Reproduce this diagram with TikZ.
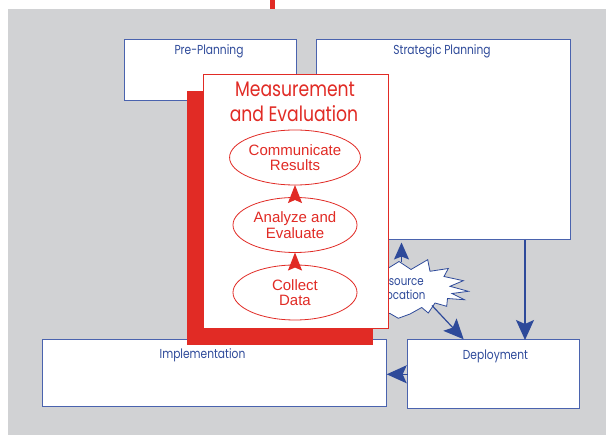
\documentclass[tikz,border=0pt]{standalone}
\usepackage{fontspec}
\setmainfont{Liberation Sans}
\newfontfamily\geo[FakeStretch=0.82]{Poppins}
\usetikzlibrary{arrows.meta,shapes.geometric,calc}
\definecolor{bggray}{HTML}{D1D2D4}
\definecolor{myblue}{HTML}{2E4A9A}
\definecolor{boxblue}{HTML}{4A63AE}
\definecolor{myred}{HTML}{E12B25}
\begin{document}
\begin{tikzpicture}[x=1pt,y=-1pt,
  bluebox/.style={draw=boxblue, line width=1pt, fill=white, inner sep=0pt, outer sep=0pt},
  bluelabel/.style={font=\geo\fontsize{13}{14}\selectfont, text=myblue, anchor=base, inner sep=0pt},
  titlelbl/.style={font=\geo\fontsize{21}{25}\selectfont, text=myred, anchor=base, inner sep=0pt},
  stepell/.style={ellipse, draw=myred, line width=0.8pt, fill=white, minimum width=124pt, minimum height=55pt, inner sep=0pt, outer sep=0pt, align=center, font=\fontsize{15}{15.5}\selectfont, text=myred},
  redarrow/.style={-{Stealth[length=18pt,width=14pt,inset=3pt]}, myred, line width=1pt},
  bluearrow/.style={-{Stealth[length=20pt,width=18pt,inset=4pt]}, myblue, line width=1.2pt},
  smallarrow/.style={-{Stealth[length=17pt,width=15pt,inset=3pt]}, myblue, line width=1.2pt},
]
\useasboundingbox (0,0) rectangle (606,435);
\fill[bggray] (8,9) rectangle (606,435);
\fill[myred] (269.5,0) rectangle (274.5,9);

% blue boxes
\node[bluebox, minimum width=172.5pt, minimum height=61.5pt] (pre) at (210.25,70.25) {};
\node[bluebox, minimum width=253.5pt, minimum height=200.5pt] (sp) at (443.25,139.75) {};
\node[bluebox, minimum width=344pt, minimum height=67pt] (impl) at (214.7,373.5) {};
\node[bluebox, minimum width=171.6pt, minimum height=69pt] (dep) at (493.5,374.5) {};
\node[bluelabel] (prelbl) at (209,55) {Pre-Planning};
\node[bluelabel] (splbl) at (442,55) {Strategic Planning};
\node[bluelabel] (impllbl) at (202.5,359) {Implementation};
\node[bluelabel] (deplbl) at (495.5,360) {Deployment};

% starburst
\filldraw[fill=white, draw=myblue, line width=0.8pt, line join=miter]
  (370,268) -- (388,268.3) -- (399,261.5) -- (411,269.5) -- (427.7,259.7)
  -- (430,271.3) -- (448.3,268.5) -- (444,276.5) -- (463.3,280.7) -- (450,286.3)
  -- (468.3,291.3) -- (452,293.5) -- (464.3,299.7) -- (447.5,298.5) -- (446.7,306.3)
  -- (435,303) -- (428.3,313) -- (421.7,307.5) -- (410,314) -- (398.3,318.3)
  -- (390,313.5) -- (370,312) -- cycle;
\node[font=\geo\fontsize{12.5}{14.3}\selectfont, text=myblue, align=center, inner sep=0pt] (res) at (400,288) {Resource\\Allocation};
\coordinate (startop) at (401.5,262.5);
\coordinate (starbr) at (432,305.5);
\coordinate (sdx) at (525,0);
\coordinate (diy) at (0,374.3);

% blue arrows
\draw[bluearrow] (sp.south -| sdx) -- (dep.north -| sdx);
\draw[bluearrow] (dep.west |- diy) -- (impl.east |- diy);
\draw[smallarrow, shorten >=2.5pt] (startop) -- (startop |- sp.south);
\draw[bluearrow, shorten >=1pt] (starbr) -- ($(dep.north west)!0.33!(dep.north east)$);

% measurement and evaluation
\fill[myred] (187,91) rectangle (373,345);
\node[draw=myred, line width=1pt, fill=white, minimum width=184.7pt, minimum height=253.5pt, inner sep=0pt, outer sep=0pt] (mbox) at (295.65,201.75) {};
\node[titlelbl] (t1) at (295,96.7) {Measurement};
\node[titlelbl] (t2) at (294,121.7) {and Evaluation};
\node[stepell] (cr) at (295,157.5) {Communicate\\Results};
\node[stepell] (ae) at (295,225) {Analyze and\\Evaluate};
\node[stepell] (cd) at (295,292.5) {Collect\\Data};
\draw[redarrow] (ae.north) -- (cr.south);
\draw[redarrow] (cd.north) -- (ae.south);
\end{tikzpicture}
\end{document}
